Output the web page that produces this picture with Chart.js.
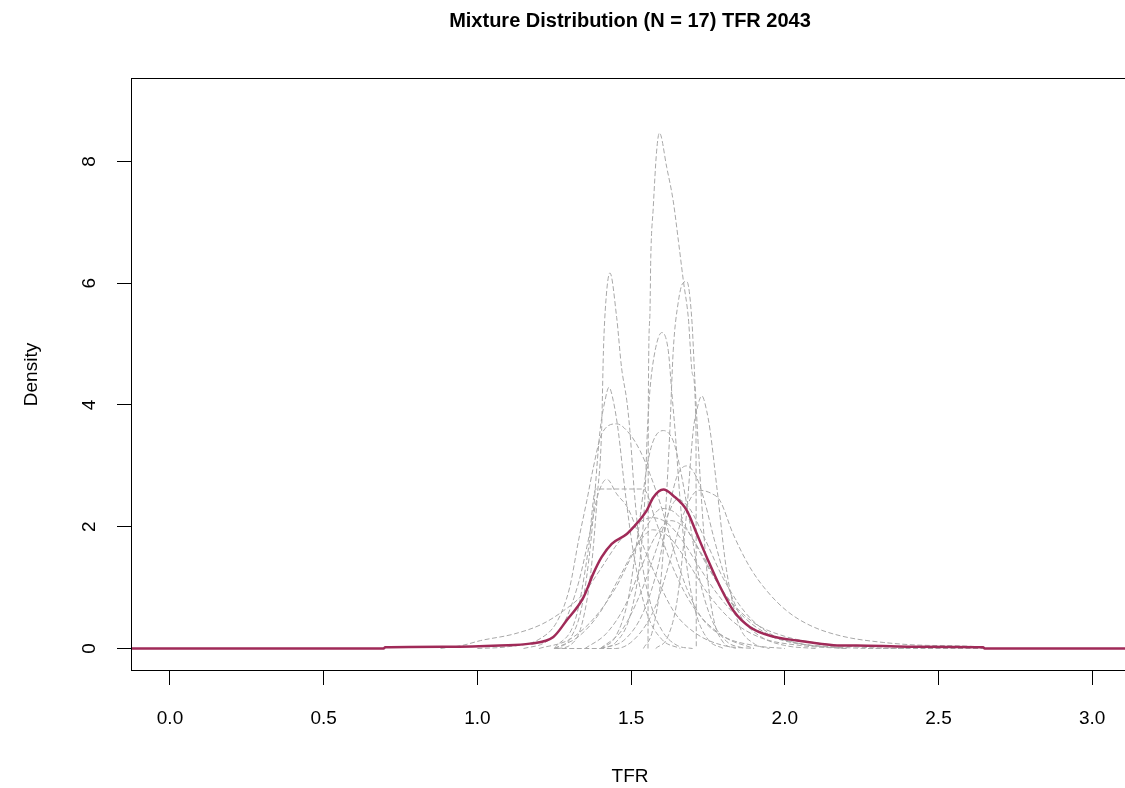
<!doctype html>
<html lang="en">
<head>
<meta charset="utf-8">
<style>
  html, body { margin: 0; padding: 0; background: #fff; overflow: hidden; }
  #chart { display: block; }
</style>
<script src="https://cdn.jsdelivr.net/npm/chart.js@4.4.1/dist/chart.umd.min.js"></script>
</head>
<body>
<canvas id="chart" width="1140" height="788"></canvas>
<script>
  // ---- data ----
  const titleText = 'Mixture Distribution (N = 17) TFR 2043';
  const xTickValues = [0, 0.5, 1, 1.5, 2, 2.5, 3];
  const yTickValues = [0, 2, 4, 6, 8];

  // mixture density (thick line)
  const mixtureX = [-0.13, 0.695, 0.70, 0.90, 1.073, 1.171, 1.247, 1.290, 1.345, 1.377, 1.404, 1.437, 1.486, 1.507,
    1.551, 1.572, 1.605, 1.637, 1.681, 1.714, 1.746, 1.790, 1.833, 1.887, 1.952, 2.039, 2.114, 2.179, 2.234,
    2.40, 2.645, 2.65, 3.2];
  const mixtureY = [0, 0, 0.02, 0.03, 0.05, 0.08, 0.19, 0.46, 0.84, 1.23, 1.50, 1.72, 1.88, 1.99,
    2.27, 2.48, 2.61, 2.51, 2.27, 1.88, 1.50, 1.01, 0.62, 0.35, 0.21, 0.13, 0.08, 0.05, 0.05,
    0.03, 0.02, 0, 0];

  // the 17 component densities (dashed grey)
  const componentX = [
    [1.555, 1.556, 1.561, 1.564, 1.572, 1.583, 1.592, 1.616, 1.637, 1.654, 1.670, 1.686, 1.700, 1.711, 1.712],
    [1.26, 1.30, 1.34, 1.37, 1.39, 1.404, 1.41, 1.418, 1.431, 1.453, 1.469, 1.486, 1.496, 1.51, 1.53, 1.56, 1.60, 1.65, 1.70],
    [1.54, 1.57, 1.60, 1.615, 1.626, 1.637, 1.654, 1.668, 1.681, 1.697, 1.708, 1.72, 1.735, 1.75, 1.77, 1.80, 1.84],
    [1.40, 1.45, 1.50, 1.53, 1.545, 1.553, 1.561, 1.578, 1.600, 1.621, 1.632, 1.643, 1.66, 1.68, 1.71, 1.75, 1.80],
    [1.25, 1.30, 1.34, 1.37, 1.399, 1.415, 1.428, 1.442, 1.458, 1.48, 1.51, 1.55, 1.60, 1.66],
    [1.58, 1.62, 1.65, 1.68, 1.702, 1.713, 1.730, 1.746, 1.757, 1.78, 1.81, 1.85, 1.90, 1.95],
    [1.0, 1.10, 1.20, 1.26, 1.30, 1.33, 1.356, 1.377, 1.404, 1.453, 1.496, 1.529, 1.561, 1.60, 1.64, 1.68, 1.73, 1.80, 1.90, 2.0],
    [1.40, 1.45, 1.49, 1.52, 1.551, 1.572, 1.605, 1.637, 1.659, 1.69, 1.72, 1.76, 1.81, 1.87],
    [1.40, 1.48, 1.54, 1.59, 1.62, 1.648, 1.681, 1.713, 1.74, 1.77, 1.81, 1.86, 1.92, 2.00, 2.10],
    [1.15, 1.22, 1.28, 1.33, 1.37, 1.393, 1.421, 1.453, 1.49, 1.53, 1.58, 1.64, 1.71, 1.80, 1.90],
    [1.25, 1.32, 1.36, 1.385, 1.54, 1.58, 1.63, 1.70, 1.80, 1.90],
    [1.25, 1.45, 1.52, 1.58, 1.63, 1.67, 1.72, 1.76, 1.789, 1.832, 1.887, 1.941, 2.006, 2.082, 2.18, 2.32, 2.48, 2.645, 2.65],
    [0.88, 0.95, 1.01, 1.12, 1.21, 1.28, 1.345, 1.40, 1.46, 1.52, 1.57, 1.62, 1.67, 1.72, 1.78, 1.85, 1.93, 2.02, 2.15, 2.30, 2.65],
    [1.20, 1.30, 1.38, 1.45, 1.50, 1.55, 1.60, 1.65, 1.70, 1.76, 1.82, 1.90, 2.00, 2.12, 2.25, 2.40],
    [1.35, 1.42, 1.48, 1.53, 1.58, 1.63, 1.68, 1.73, 1.79, 1.86, 1.94, 2.05, 2.2],
    [1.25, 1.33, 1.40, 1.46, 1.52, 1.57, 1.62, 1.68, 1.75, 1.83, 1.92, 2.05, 2.2],
    [1.40, 1.47, 1.53, 1.58, 1.62, 1.65, 1.69, 1.74, 1.80, 1.87, 1.95, 2.05, 2.2]
  ];
  const componentY = [
    [0, 4.0, 5.45, 6.42, 7.24, 8.17, 8.47, 7.90, 7.35, 6.69, 6.04, 5.44, 4.5, 3.6, 0],
    [0, 0.05, 0.4, 1.3, 2.5, 3.58, 4.89, 5.71, 6.17, 5.44, 4.61, 4.07, 3.58, 2.6, 1.6, 0.8, 0.3, 0.05, 0],
    [0, 0.3, 1.3, 2.5, 3.58, 4.89, 5.71, 6.0, 6.03, 5.44, 4.35, 3.2, 2.0, 1.1, 0.45, 0.1, 0],
    [0, 0.1, 0.6, 1.5, 2.5, 3.58, 4.23, 4.89, 5.19, 4.89, 4.23, 3.58, 2.4, 1.4, 0.6, 0.15, 0],
    [0, 0.15, 0.7, 1.8, 3.58, 4.07, 4.29, 4.07, 3.58, 2.6, 1.5, 0.6, 0.15, 0],
    [0, 0.2, 0.8, 2.2, 3.58, 3.9, 4.15, 3.9, 3.58, 2.6, 1.3, 0.4, 0.08, 0],
    [0, 0.03, 0.15, 0.45, 1.0, 1.8, 2.43, 2.97, 3.52, 3.69, 3.52, 3.25, 2.87, 2.3, 1.6, 1.0, 0.5, 0.2, 0.05, 0],
    [0, 0.2, 0.8, 1.8, 2.97, 3.41, 3.58, 3.41, 2.97, 2.1, 1.2, 0.5, 0.12, 0],
    [0, 0.15, 0.6, 1.4, 2.2, 2.81, 3.0, 2.81, 2.4, 1.8, 1.1, 0.5, 0.2, 0.05, 0],
    [0, 0.1, 0.4, 1.1, 2.0, 2.54, 2.78, 2.54, 2.3, 1.8, 1.2, 0.6, 0.25, 0.05, 0],
    [0, 0.5, 1.6, 2.62, 2.62, 2.1, 1.4, 0.7, 0.2, 0],
    [0, 0, 0.2, 0.7, 1.5, 2.2, 2.6, 2.55, 2.43, 1.88, 1.33, 0.95, 0.62, 0.38, 0.21, 0.1, 0.05, 0.02, 0],
    [0, 0.05, 0.13, 0.24, 0.4, 0.62, 0.9, 1.3, 1.75, 2.05, 2.15, 2.05, 1.75, 1.35, 0.9, 0.5, 0.25, 0.1, 0.03, 0, 0],
    [0, 0.15, 0.5, 1.0, 1.5, 2.0, 2.3, 2.2, 1.8, 1.25, 0.8, 0.42, 0.2, 0.08, 0.02, 0],
    [0, 0.25, 0.7, 1.3, 1.85, 2.1, 1.95, 1.55, 1.0, 0.55, 0.25, 0.08, 0],
    [0, 0.2, 0.6, 1.15, 1.7, 1.95, 1.85, 1.45, 0.9, 0.45, 0.18, 0.05, 0],
    [0, 0.3, 0.9, 1.6, 2.2, 2.45, 2.3, 1.8, 1.15, 0.6, 0.25, 0.08, 0]
  ];

  // ---- chart ----
  const family = "'Liberation Sans', Arial, Helvetica, sans-serif";
  const toPoints = (xs, ys) => xs.map((x, i) => ({ x: x, y: ys[i] }));

  const datasets = [{
    data: toPoints(mixtureX, mixtureY),
    borderColor: '#a02a58',
    borderWidth: 2.5,
    showLine: true,
    pointRadius: 0,
    cubicInterpolationMode: 'monotone'
  }];
  componentX.forEach((xs, i) => {
    datasets.push({
      data: toPoints(xs, componentY[i]),
      borderColor: '#a8a8a8',
      borderWidth: 1,
      borderDash: [5, 2.5],
      showLine: true,
      pointRadius: 0,
      cubicInterpolationMode: 'monotone'
    });
  });

  // R style box round the plot region
  const plotBox = {
    id: 'plotBox',
    afterDatasetsDraw(chart) {
      const { ctx, chartArea: a } = chart;
      ctx.save();
      ctx.strokeStyle = '#000';
      ctx.lineWidth = 1;
      ctx.strokeRect(Math.round(a.left) - 0.5, Math.round(a.top) - 0.5,
        Math.round(a.right - a.left) + 1, Math.round(a.bottom - a.top) + 1);
      ctx.restore();
    }
  };

  const tickGrid = {
    display: true,
    drawOnChartArea: false,
    drawTicks: true,
    tickLength: 15,
    color: '#000',
    tickColor: '#000',
    lineWidth: 1
  };

  new Chart(document.getElementById('chart'), {
    type: 'scatter',
    data: { datasets: datasets },
    options: {
      responsive: false,
      animation: false,
      events: [],
      layout: { padding: { left: 0, right: 12, top: 0, bottom: 0 } },
      plugins: {
        legend: { display: false },
        tooltip: { enabled: false },
        title: {
          display: true,
          text: titleText,
          fullSize: false,
          color: '#000',
          font: { family: family, size: 20, weight: 'bold', lineHeight: 1.2 },
          padding: { top: 9.7, bottom: 45.3 }
        }
      },
      scales: {
        x: {
          type: 'linear',
          min: -0.1236,
          max: 3.1164,
          afterBuildTicks: s => { s.ticks = xTickValues.map(v => ({ value: v })); },
          afterFit: s => { s.height = 118; },
          grid: tickGrid,
          border: { display: false },
          ticks: {
            color: '#000',
            font: { family: family, size: 19 },
            padding: 22,
            maxRotation: 0,
            autoSkip: false,
            callback: v => v.toFixed(1)
          },
          title: {
            display: true,
            text: 'TFR',
            color: '#000',
            font: { family: family, size: 19 },
            padding: { top: 0, bottom: 0 }
          }
        },
        y: {
          type: 'linear',
          min: -0.353,
          max: 9.355,
          afterBuildTicks: s => { s.ticks = yTickValues.map(v => ({ value: v })); },
          afterFit: s => { s.width = 132; },
          grid: tickGrid,
          border: { display: false },
          ticks: {
            color: '#000',
            font: { family: family, size: 19 },
            minRotation: 90,
            maxRotation: 90,
            crossAlign: 'center',
            padding: 21.7,
            autoSkip: false,
            callback: v => String(v)
          },
          title: {
            display: true,
            text: 'Density',
            color: '#000',
            font: { family: family, size: 19 },
            padding: { top: 20.3, bottom: 0 }
          }
        }
      }
    },
    plugins: [plotBox]
  });
</script>
</body>
</html>
